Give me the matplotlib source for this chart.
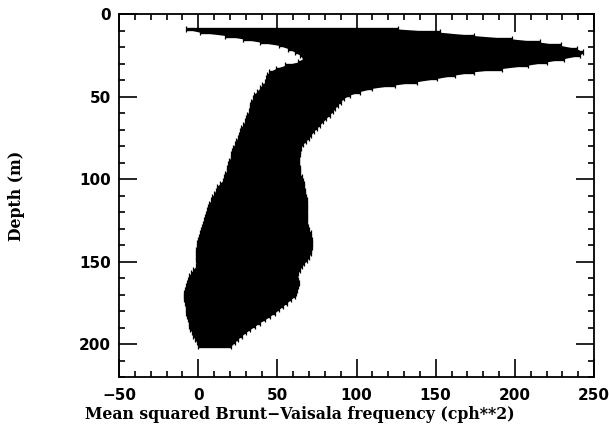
import matplotlib
matplotlib.use("Agg")
import matplotlib.pyplot as plt
from matplotlib.ticker import MultipleLocator

# depth levels (m), every 2 m from 9 to 201
depth = list(range(9, 202, 2))

# lower bound of mean squared N (cph**2) at each depth
n2_low = [
    -8, 1, 17, 28, 39, 51, 57, 61, 64.5, 66,
    63, 55, 49, 45, 43.5, 43, 42.5, 40.5, 39, 37,
    35.5, 34.5, 33.5, 33, 32.5, 32, 31, 30.5, 29.5, 28.5,
    27, 26.5, 25.5, 25, 24, 23, 22, 21.5, 21, 20.5,
    19.5, 19, 18.5, 18, 17, 16.5, 15.5, 13.5, 12, 11,
    10, 9, 8, 7, 6, 5.5, 5, 4, 3.5, 3,
    2.5, 1.5, 1, 0.5, 0, -0.5, -1, -1.5, -1.5, -1.5,
    -1.5, -1, -1.5, -3, -4.5, -5.5, -6.5, -7, -8, -8.5,
    -9, -9, -9, -8.5, -8, -8, -7.5, -7, -6.5, -6,
    -5.5, -5, -4, -3, -2, -1, 0,
]

# upper bound
n2_high = [
    126, 153, 174, 198, 216, 229, 239, 243, 241, 231,
    220, 208, 192, 174, 162, 151, 138, 124, 110, 102,
    96, 92, 90, 88, 86.5, 85, 83, 81, 79, 77,
    75, 73, 71.5, 70, 68, 66, 65, 64.5, 64, 63.5,
    63.5, 63.5, 64, 64.5, 64.5, 65.5, 66.5, 67, 67, 67.5,
    67.5, 68, 68.5, 69, 69, 68.5, 68.5, 68.5, 68.5, 69,
    69.5, 70, 71, 71.5, 72, 72, 72, 71.5, 71, 70,
    69, 67, 65.5, 64, 63, 62.5, 63, 63.5, 63, 62.5,
    62, 61, 58.5, 56, 53.5, 51, 48.5, 45.5, 42.5, 39,
    36, 33, 30, 27.5, 25, 23, 21,
]

center = [(a + b) / 2 for a, b in zip(n2_low, n2_high)]
half = [(b - a) / 2 for a, b in zip(n2_low, n2_high)]

fig = plt.figure(figsize=(6.09, 4.24), dpi=100)
ax = fig.add_axes([0.1954, 0.1108, 0.78, 0.856])

ax.fill_betweenx(depth, n2_low, n2_high, color="black", linewidth=0)
ax.errorbar(center, depth, xerr=half, fmt="none", ecolor="black",
            elinewidth=2.4, capsize=2.4, capthick=0.9)

ax.set_xlim(-50, 250)
ax.set_ylim(220, 0)
ax.xaxis.set_major_locator(MultipleLocator(50))
ax.xaxis.set_minor_locator(MultipleLocator(10))
ax.yaxis.set_major_locator(MultipleLocator(50))
ax.yaxis.set_minor_locator(MultipleLocator(10))

ax.tick_params(which="both", direction="in", top=True, right=True, width=1.2)
ax.tick_params(which="major", length=13)
ax.tick_params(which="minor", length=4)
ax.tick_params(axis="x", which="major", pad=8)
ax.tick_params(axis="y", which="major", pad=6)
for lab in ax.get_xticklabels() + ax.get_yticklabels():
    lab.set_fontfamily("DejaVu Sans")
    lab.set_fontweight("bold")
    lab.set_fontsize(11)
for sp in ax.spines.values():
    sp.set_linewidth(1.3)

ax.set_xlabel("Mean squared Brunt\u2212Vaisala frequency (cph**2)",
              fontfamily="DejaVu Serif", fontweight="bold", fontsize=11.3)
ax.xaxis.set_label_coords(0.381, -0.08)
ax.set_ylabel("Depth (m)", fontfamily="DejaVu Serif", fontweight="bold",
              fontsize=11.3)
ax.yaxis.set_label_coords(-0.198, 0.5)

fig.savefig("out.png", dpi=100)
